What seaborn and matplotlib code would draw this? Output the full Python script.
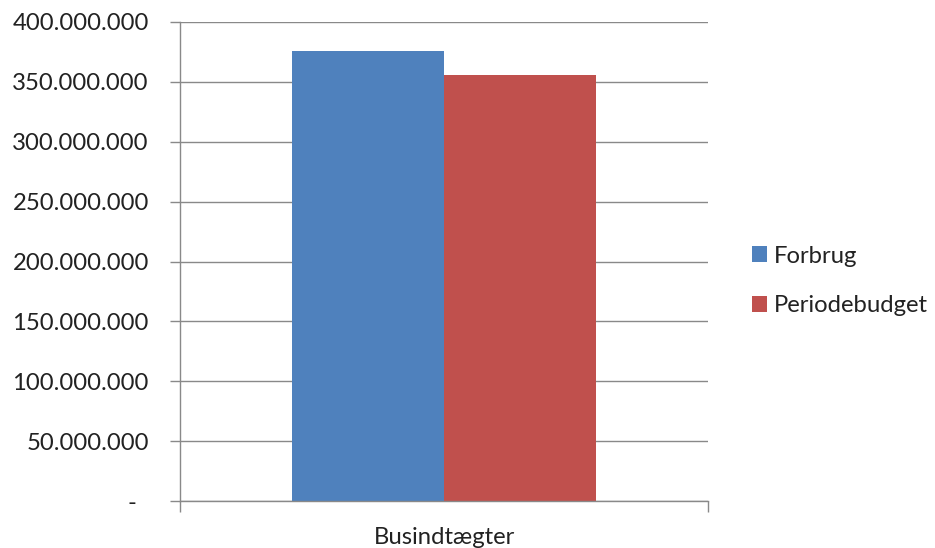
import pandas as pd
import seaborn as sns
import matplotlib.pyplot as plt
from matplotlib.ticker import FuncFormatter, FixedLocator

# ---- Data ----
kategorier = ['Busindtægter']
serier = ['Forbrug', 'Periodebudget']
forbrug = [376000000]
periodebudget = [356000000]
farver = ['#4F81BD', '#C0504D']

df = pd.DataFrame({
    'Kategori': kategorier * 2,
    'Serie': [serier[0]] * len(forbrug) + [serier[1]] * len(periodebudget),
    'Beløb': forbrug + periodebudget,
})

# ---- Style ----
sns.set_style('white')
plt.rcParams['font.family'] = ['Lato', 'DejaVu Sans']
plt.rcParams['text.color'] = '#222222'
grey = '#898989'
fs = 17.2

fig = plt.figure(figsize=(9.35, 5.48), dpi=100)
ax = fig.add_axes([180 / 935, 47 / 548, 528 / 935, 479 / 548])

sns.barplot(data=df, x='Kategori', y='Beløb', hue='Serie', palette=farver,
            width=0.576, gap=0, saturation=1, linewidth=0, ax=ax, legend=True)

ax.set_xlim(-0.5, 0.5)
ax.set_ylim(0, 400000000)
ax.yaxis.set_major_locator(FixedLocator(range(0, 400000001, 50000000)))


def fmt(v, pos):
    if v == 0:
        return '-  '
    return f'{int(v):,}'.replace(',', '.')


ax.yaxis.set_major_formatter(FuncFormatter(fmt))
ax.set_axisbelow(True)
ax.grid(axis='y', color=grey, linewidth=1.0)
ax.grid(axis='x', visible=False)

for s in ['top', 'right']:
    ax.spines[s].set_visible(False)
for s in ['left', 'bottom']:
    ax.spines[s].set_color(grey)
    ax.spines[s].set_linewidth(1.0)

ax.tick_params(axis='y', left=True, length=7.5, width=1.0, color=grey,
               pad=15, labelsize=fs, labelcolor='#222222')
ax.set_xticks([0])
ax.set_xticklabels(kategorier)
ax.set_xticks([-0.5, 0.5], minor=True)
ax.tick_params(axis='x', which='major', length=0, pad=19, labelsize=fs,
               labelcolor='#222222')
ax.tick_params(axis='x', which='minor', bottom=True, length=8, width=1.0,
               color=grey)
ax.set_xlabel('')
ax.set_ylabel('')

# ---- Legend ----
handles, labels = ax.get_legend_handles_labels()
ax.legend_.remove()
fig.legend(handles, labels, loc='center left', bbox_to_anchor=(752 / 935, 1 - 281 / 548),
           frameon=False, fontsize=fs, handlelength=0.63, handleheight=0.63,
           handletextpad=0.3, labelspacing=1.2, borderpad=0, borderaxespad=0)

fig.savefig('out.png', dpi=100)
